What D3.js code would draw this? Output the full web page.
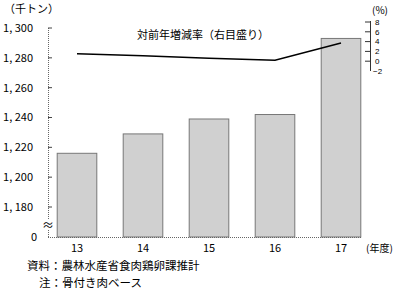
<!DOCTYPE html>
<html>
<head>
<meta charset="utf-8">
<script src="https://cdn.jsdelivr.net/npm/d3@7"></script>
<style>
  body { margin: 0; background: #fff; }
  text { font-family: "Noto Sans CJK JP", sans-serif; fill: #000; }
  text.rt { font-family: "Liberation Sans", sans-serif; }
</style>
</head>
<body>
<script>
// data
var years = ['13', '14', '15', '16', '17']
var production = [1216, 1229, 1239, 1242, 1293]   // 千トン
var changeRate = [1.5, 1.1, 0.6, 0.2, 3.7]         // %
var leftTicks = [1180, 1200, 1220, 1240, 1260, 1280, 1300]
var rightTicks = [8, 6, 4, 2, 0, -2]

var svg = d3.select('body').append('svg')
  .attr('width', 400)
  .attr('height', 291)

var x = d3.scaleBand().domain(years).range([44, 374])
  .paddingInner(0.4).paddingOuter(0.2)

// left scale; 0 sits at the bottom, below the break
var y = d3.scaleLinear().domain([1180, 1300]).range([207, 28])
var base = 237

var yR = d3.scaleLinear().domain([-2, 8]).range([71, 22])

// bars
svg.selectAll('rect.bar').data(production).enter().append('rect')
  .attr('class', 'bar')
  .attr('x', function(d, i) { return x(years[i]) })
  .attr('y', function(d) { return y(d) })
  .attr('width', x.bandwidth())
  .attr('height', function(d) { return base - y(d) })
  .attr('fill', '#d0d0d0')
  .attr('stroke', '#777')
  .attr('stroke-width', 1)

// left + bottom axis lines (dotted)
svg.append('line')
  .attr('x1', 48.5).attr('x2', 48.5).attr('y1', 28).attr('y2', base)
  .attr('stroke', '#666').attr('stroke-dasharray', '1,1')
svg.append('line')
  .attr('x1', 48).attr('x2', 362).attr('y1', base + 0.5).attr('y2', base + 0.5)
  .attr('stroke', '#666').attr('stroke-dasharray', '1,1')

var fmt = function(d) { return d3.format(',')(d).replace(',', ', ') }
var lt = svg.selectAll('g.lt').data(leftTicks).enter().append('g')
  .attr('transform', function(d) { return 'translate(0,' + y(d) + ')' })
lt.append('line').attr('x1', 48).attr('x2', 52).attr('stroke', '#444')
lt.append('text').attr('x', 33).attr('dy', '0.35em')
  .attr('text-anchor', 'end').attr('font-size', 11).text(fmt)
svg.append('text').attr('x', 37).attr('y', base).attr('dy', '0.35em')
  .attr('text-anchor', 'end').attr('font-size', 11).text('0')

// break mark
svg.append('rect').attr('x', 42).attr('y', 220).attr('width', 12).attr('height', 10).attr('fill', '#fff')
svg.append('text').attr('x', 48).attr('y', 226).attr('dy', '0.35em')
  .attr('text-anchor', 'middle').attr('font-size', 12).text('≈')

svg.append('text').attr('x', 4).attr('y', 13).attr('font-size', 11).text('（千トン）')

// x labels
svg.selectAll('text.xl').data(years).enter().append('text')
  .attr('x', function(d) { return x(d) + x.bandwidth() / 2 })
  .attr('y', 248).attr('dy', '0.35em')
  .attr('text-anchor', 'middle').attr('font-size', 11).text(function(d) { return d })
svg.append('text').attr('x', 366).attr('y', 248).attr('dy', '0.35em')
  .attr('font-size', 10).text('(年度)')

// right axis
svg.append('line').attr('x1', 370.5).attr('x2', 370.5).attr('y1', yR(8) - 1).attr('y2', yR(-2))
  .attr('stroke', '#333')
var rt = svg.selectAll('g.rt').data(rightTicks).enter().append('g')
  .attr('transform', function(d) { return 'translate(0,' + yR(d) + ')' })
rt.filter(function(d) { return d >= 0 }).append('line')
  .attr('x1', 365).attr('x2', 370).attr('stroke', '#333')
rt.append('text').attr('class', 'rt')
  .attr('x', function(d) { return d < 0 ? 373 : 375 }).attr('dy', '0.35em')
  .attr('font-size', 8).text(function(d) { return d < 0 ? '−' + Math.abs(d) : d })
svg.append('text').attr('x', 372).attr('y', 10).attr('dy', '0.35em')
  .attr('font-size', 10).text('(%)')

// rate line
var line = d3.line()
  .x(function(d, i) { return x(years[i]) + x.bandwidth() / 2 })
  .y(function(d) { return yR(d) })
svg.append('path').datum(changeRate)
  .attr('d', line).attr('fill', 'none').attr('stroke', '#000').attr('stroke-width', 1.5)

svg.append('text').attr('x', 203).attr('y', 35).attr('dy', '0.35em')
  .attr('text-anchor', 'middle').attr('font-size', 11).text('対前年増減率（右目盛り）')

// notes
svg.append('text').attr('x', 27).attr('y', 266).attr('dy', '0.35em')
  .attr('font-size', 11.5).text('資料：農林水産省食肉鶏卵課推計')
svg.append('text').attr('x', 39).attr('y', 283).attr('dy', '0.35em')
  .attr('font-size', 11.5).text('注：骨付き肉ベース')
</script>
</body>
</html>
